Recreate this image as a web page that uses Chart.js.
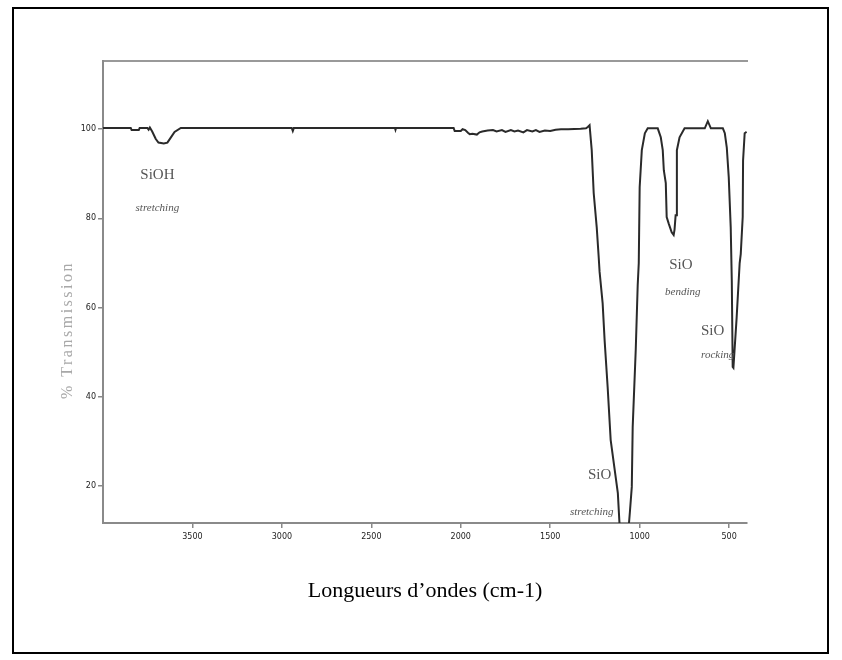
<!DOCTYPE html>
<html lang="fr">
<head>
    <meta charset="UTF-8">
    <title>Spectre IR - % Transmission</title>
    <script src="https://cdn.jsdelivr.net/npm/chart.js"></script>
    <style>
        html, body { margin: 0; padding: 0; background: #fff; }
        .wrap { position: relative; width: 842px; height: 660px; }
        .cadre { position: absolute; left: 12px; top: 7px; right: 13px; bottom: 6px; border: 2px solid #000; pointer-events: none; }
    </style>
</head>
<body>
    <div class="wrap">
        <canvas id="spectre"></canvas>
        <div class="cadre"></div>
    </div>

    <script>
        const nombresOnde = [4000, 3900, 3845, 3840, 3800, 3795, 3752, 3745, 3738, 3725, 3705, 3690, 3660, 3640, 3625, 3600, 3565,
            2945, 2939, 2933, 2368, 2365, 2362, 2040, 2034, 2000, 1990, 1975, 1960, 1950, 1935, 1910, 1895, 1880, 1850, 1820,
            1800, 1770, 1750, 1720, 1700, 1680, 1650, 1630, 1600, 1580, 1560, 1530, 1500, 1470, 1440, 1400, 1330, 1300, 1290,
            1280, 1268, 1257, 1240, 1229, 1224, 1207, 1196, 1179, 1162, 1122, 1112, 1095, 1070, 1061, 1055, 1044, 1039, 1022,
            1011, 1005, 1000, 988, 971, 955, 899, 882, 871, 865, 854, 849, 838, 821, 810, 805, 799, 795, 792, 777, 749, 636,
            619, 602, 535, 524, 513, 502, 491, 485, 480, 476, 458, 441, 435, 424, 422, 413, 402];
        const transmission = [100.3, 100.3, 100.3, 99.8, 99.8, 100.3, 100.3, 99.9, 100.4, 99.5, 97.8, 97.0, 96.8, 97.0, 97.9, 99.4, 100.3,
            100.3, 99.6, 100.3, 100.3, 99.9, 100.3, 100.3, 99.6, 99.6, 100.0, 99.8, 99.2, 98.9, 99.0, 98.8, 99.3, 99.5, 99.7, 99.8,
            99.5, 99.8, 99.4, 99.8, 99.5, 99.7, 99.3, 99.8, 99.5, 99.8, 99.4, 99.7, 99.6, 99.9, 100.0, 100.0, 100.1, 100.2, 100.5,
            100.9, 95.3, 85.7, 78.0, 71.3, 68.0, 61.0, 52.7, 42.2, 30.3, 18.4, 11.0, 4, 4, 11, 14, 19.8, 33.2, 50.5,
            65.0, 70.0, 87.0, 95.3, 99.1, 100.2, 100.2, 98.2, 95.3, 90.8, 87.9, 80.3, 78.9, 76.9, 76.3, 77.5, 80.7, 80.7, 95.3, 98.2, 100.2, 100.2,
            101.8, 100.2, 100.2, 99.1, 95.9, 89.2, 78.0, 66.0, 46.7, 46.5, 57.7, 70.0, 72.0, 80.3, 93.0, 99.1, 99.4];

        const xTicks = [3500, 3000, 2500, 2000, 1500, 1000, 500];
        const yTicks = [20, 40, 60, 80, 100];

        // Étiquettes des bandes (position en nombre d'onde / % transmission)
        const bandes = [
            { texte: 'SiOH', x: 3696, y: 89.7, italique: false },
            { texte: 'stretching', x: 3696, y: 82.3, italique: true },
            { texte: 'SiO', x: 770, y: 69.5, italique: false },
            { texte: 'bending', x: 759, y: 63.5, italique: true },
            { texte: 'SiO', x: 592, y: 54.7, italique: false },
            { texte: 'rocking', x: 564, y: 49.4, italique: true },
            { texte: 'SiO', x: 1224, y: 22.5, italique: false },
            { texte: 'stretching', x: 1268, y: 14.2, italique: true }
        ];

        const points = nombresOnde.map((v, i) => ({ x: v, y: transmission[i] }));

        // Texte des bandes + titre vertical
        const textesPlugin = {
            id: 'textes',
            afterDatasetsDraw(chart) {
                const ctx = chart.ctx;
                const sx = chart.scales.x, sy = chart.scales.y;
                ctx.save();
                ctx.fillStyle = '#555';
                ctx.textAlign = 'center';
                ctx.textBaseline = 'middle';
                bandes.forEach(b => {
                    ctx.font = b.italique ? 'italic 11px "Liberation Serif"' : '15px "Liberation Serif"';
                    ctx.fillText(b.texte, sx.getPixelForValue(b.x), sy.getPixelForValue(b.y));
                });
                // % Transmission
                ctx.translate(chart.chartArea.left - 35, 330);
                ctx.rotate(-Math.PI / 2);
                ctx.fillStyle = '#a8a8a8';
                ctx.font = '16px "Liberation Serif"';
                ctx.letterSpacing = '2.5px';
                ctx.fillText('% Transmission', 0, 0);
                ctx.restore();
            }
        };

        const ctx = document.getElementById('spectre').getContext('2d');
        new Chart(ctx, {
            type: 'line',
            data: {
                datasets: [{
                    data: points,
                    borderColor: '#2a2a2a',
                    borderWidth: 2,
                    pointRadius: 0,
                    tension: 0,
                    fill: false
                }]
            },
            options: {
                responsive: true,
                maintainAspectRatio: false,
                animation: false,
                layout: { padding: { top: 61, right: 95, left: 0, bottom: 0 } },
                plugins: {
                    legend: { display: false },
                    tooltip: { enabled: false }
                },
                scales: {
                    x: {
                        type: 'linear',
                        reverse: true,
                        min: 400,
                        max: 4000,
                        afterBuildTicks: axis => { axis.ticks = xTicks.map(v => ({ value: v })); },
                        afterFit: axis => { axis.height = 137; },
                        grid: { display: true, drawOnChartArea: false, drawTicks: true, tickLength: 5, color: '#888', lineWidth: 1.5 },
                        border: { display: true, color: '#8a8a8a', width: 2 },
                        ticks: {
                            color: '#222',
                            font: { size: 8, family: 'DejaVu Sans' },
                            padding: 4,
                            maxRotation: 0,
                            callback: v => String(v)
                        },
                        title: {
                            display: true,
                            text: 'Longueurs d’ondes (cm-1)',
                            color: '#000',
                            font: { size: 22, family: 'Liberation Serif' },
                            padding: { top: 0, bottom: 56 }
                        }
                    },
                    x2: {
                        type: 'linear',
                        position: 'top',
                        min: 400,
                        max: 4000,
                        afterFit: axis => { axis.height = 0; },
                        grid: { display: false },
                        ticks: { display: false },
                        border: { display: true, color: '#999', width: 2 }
                    },
                    y: {
                        min: 11.7,
                        max: 115.3,
                        afterBuildTicks: axis => { axis.ticks = yTicks.map(v => ({ value: v })); },
                        afterFit: axis => { axis.width = 103; },
                        grid: { display: true, drawOnChartArea: false, drawTicks: true, tickLength: 5, color: '#888', lineWidth: 1.5 },
                        border: { display: true, color: '#8a8a8a', width: 2 },
                        ticks: { color: '#222', font: { size: 8, family: 'DejaVu Sans' }, padding: 2 }
                    }
                }
            },
            plugins: [textesPlugin]
        });
    </script>
</body>
</html>
